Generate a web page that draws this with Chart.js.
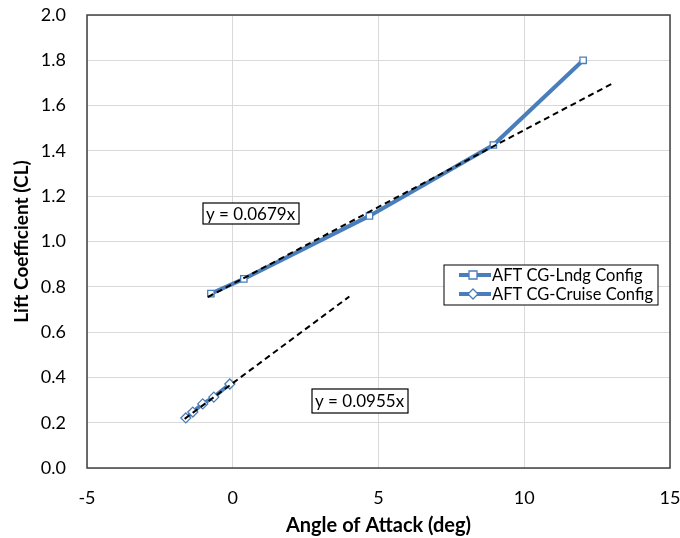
<!DOCTYPE html>
<html>
<head>
<meta charset="utf-8">
<script src="https://cdn.jsdelivr.net/npm/chart.js@4"></script>
<style>
  html, body { margin: 0; padding: 0; background: #fff; }
  #wrap { width: 680px; height: 538px; }
</style>
</head>
<body>
<div id="wrap"><canvas id="chart" width="680" height="538"></canvas></div>
<script>
// values
const lndgAoa = [-0.75, 0.38, 4.69, 8.94, 12.02];
const lndgCl = [0.770, 0.835, 1.113, 1.426, 1.800];
const cruiseAoa = [-1.61, -1.37, -1.03, -0.65, -0.10];
const cruiseCl = [0.221, 0.247, 0.283, 0.313, 0.371];
// excel linear trendlines (end points)
const lndgTrendAoa = [-0.85, 13.0];
const lndgTrendCl = [0.755, 1.696];
const cruiseTrendAoa = [-1.65, 4.0];
const cruiseTrendCl = [0.217, 0.757];
const seriesNames = ['AFT CG-Lndg Config', 'AFT CG-Cruise Config'];
const trendLabels = ['y = 0.0679x', 'y = 0.0955x'];

const FONT = 'Lato, "Open Sans", sans-serif';
const BLUE = '#4a7ebb';

const pts = (xs, ys) => xs.map((x, i) => ({ x: x, y: ys[i] }));

// legend box and trendline equation boxes drawn on top
const extras = {
  id: 'extras',
  afterDatasetsDraw(chart) {
    const ctx = chart.ctx;
    const a = chart.chartArea;
    ctx.save();
    // plot border
    ctx.strokeStyle = '#404040';
    ctx.lineWidth = 1.5;
    ctx.strokeRect(a.left, a.top, a.right - a.left, a.bottom - a.top);

    // equation labels
    ctx.font = '17px ' + FONT;
    ctx.textBaseline = 'middle';
    ctx.textAlign = 'left';
    const boxes = [
      { txt: trendLabels[0], x: 203, y: 203, w: 96, h: 21 },
      { txt: trendLabels[1], x: 312, y: 389, w: 96, h: 24 }
    ];
    boxes.forEach(b => {
      ctx.fillStyle = '#fff';
      ctx.fillRect(b.x, b.y, b.w, b.h);
      ctx.strokeStyle = '#000';
      ctx.lineWidth = 1.2;
      ctx.strokeRect(b.x, b.y, b.w, b.h);
      ctx.fillStyle = '#000';
      ctx.fillText(b.txt, b.x + 3, b.y + b.h / 2 + 1);
    });

    // legend
    const lx = 444, ly = 265, lw = 214, lh = 40;
    ctx.fillStyle = '#fff';
    ctx.fillRect(lx, ly, lw, lh);
    ctx.strokeStyle = '#000';
    ctx.lineWidth = 1;
    ctx.strokeRect(lx, ly, lw, lh);
    ctx.font = '16.5px ' + FONT;
    seriesNames.forEach((name, i) => {
      const cy = ly + 10 + i * 19;
      ctx.strokeStyle = BLUE;
      ctx.lineWidth = 4;
      ctx.beginPath();
      ctx.moveTo(459, cy);
      ctx.lineTo(491, cy);
      ctx.stroke();
      ctx.fillStyle = '#fff';
      ctx.lineWidth = 1.3;
      ctx.beginPath();
      if (i === 0) {
        ctx.rect(469, cy - 4, 8, 8);
      } else {
        ctx.moveTo(473, cy - 5); ctx.lineTo(478, cy); ctx.lineTo(473, cy + 5); ctx.lineTo(468, cy); ctx.closePath();
      }
      ctx.fill();
      ctx.stroke();
      ctx.fillStyle = '#000';
      ctx.fillText(name, 492, cy + 1);
    });
    ctx.restore();
  }
};

new Chart(document.getElementById('chart'), {
  type: 'scatter',
  data: {
    datasets: [
      {
        label: seriesNames[0], data: pts(lndgAoa, lndgCl), showLine: true,
        borderColor: BLUE, borderWidth: 4, pointStyle: 'rect', pointRadius: 4.5,
        pointBackgroundColor: '#fff', pointBorderColor: BLUE, pointBorderWidth: 1.3, order: 3
      },
      {
        label: seriesNames[1], data: pts(cruiseAoa, cruiseCl), showLine: true,
        borderColor: BLUE, borderWidth: 4, pointStyle: 'rectRot', pointRadius: 5,
        pointBackgroundColor: '#fff', pointBorderColor: BLUE, pointBorderWidth: 1.3, order: 3
      },
      {
        label: 'lndg trend', data: pts(lndgTrendAoa, lndgTrendCl), showLine: true,
        borderColor: '#000', borderWidth: 2, borderDash: [6, 4], pointRadius: 0, order: 1
      },
      {
        label: 'cruise trend', data: pts(cruiseTrendAoa, cruiseTrendCl), showLine: true,
        borderColor: '#000', borderWidth: 2, borderDash: [6, 4], pointRadius: 0, order: 1
      }
    ]
  },
  options: {
    responsive: false,
    animation: false,
    layout: { padding: { left: 0, right: 10, top: 15, bottom: 0 } },
    plugins: { legend: { display: false }, tooltip: { enabled: false } },
    scales: {
      x: {
        type: 'linear', min: -5, max: 15,
        ticks: { stepSize: 5, color: '#000', font: { family: FONT, size: 18 }, padding: 19 },
        grid: { color: '#d9d9d9', drawTicks: false },
        border: { display: false },
        title: { display: true, text: 'Angle of Attack (deg)', color: '#000', font: { family: FONT, size: 20, weight: 'bold' }, padding: { top: 2, bottom: 0 } },
        afterFit: s => { s.height = 70; s.paddingLeft = 0; s.paddingRight = 0; }
      },
      y: {
        min: 0, max: 2.0,
        ticks: { stepSize: 0.2, color: '#000', font: { family: FONT, size: 18 }, padding: 21, callback: v => v.toFixed(1) },
        grid: { color: '#d9d9d9', drawTicks: false },
        border: { display: false },
        title: { display: true, text: 'Lift Coefficient (CL)', color: '#000', font: { family: FONT, size: 19, weight: 'bold' }, padding: { top: 10, bottom: 2 } },
        afterFit: s => { s.width = 87; s.paddingTop = 0; s.paddingBottom = 0; }
      }
    }
  },
  plugins: [extras]
});
</script>
</body>
</html>
